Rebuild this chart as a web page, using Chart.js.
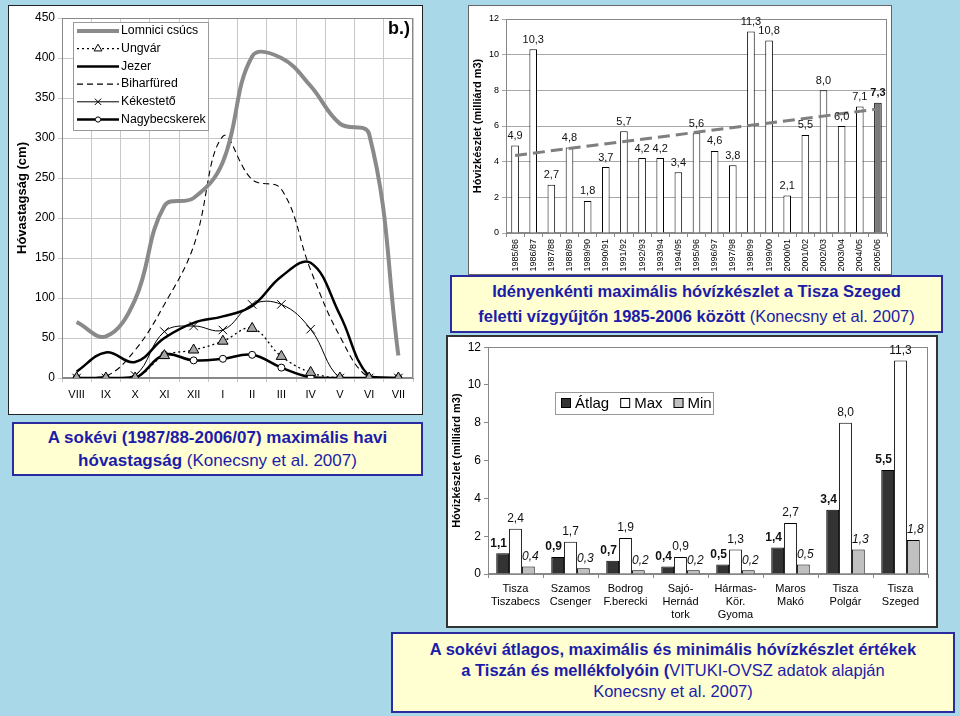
<!DOCTYPE html>
<html><head><meta charset="utf-8">
<script src="https://cdn.jsdelivr.net/npm/chart.js@4.4.1/dist/chart.umd.min.js"></script>
<style>
body{margin:0;width:960px;height:716px;background:#a9d8e8;position:relative;overflow:hidden;font-family:"Liberation Sans",Arial,sans-serif;}
.panel{position:absolute;background:#fff;box-sizing:border-box;}
.panel canvas{position:absolute;left:0;top:0;}
.cap{position:absolute;background:#ffffd2;border:2px solid #2b2ba0;box-sizing:border-box;color:#1c1ca8;text-align:center;}
</style></head>
<body>
<div class="panel" style="left:8px;top:5px;width:415px;height:410px;border:1px solid #222"><canvas id="c1" width="413" height="408"></canvas></div>
<div class="panel" style="left:468px;top:5px;width:424px;height:270px;border:1px solid #666"><canvas id="c2" width="422" height="268"></canvas></div>
<div class="panel" style="left:446px;top:335px;width:492px;height:293px;border:2px solid #333"><canvas id="c3" width="488" height="289"></canvas></div>
<div class="cap" style="left:450px;top:275px;width:493px;height:58px;font-size:16.5px;line-height:25px;padding-top:2px"><b>Idényenkénti maximális hóvízkészlet a Tisza Szeged<br>feletti vízgyűjtőn 1985-2006 között</b> (Konecsny et al. 2007)</div>
<div class="cap" style="left:12px;top:422px;width:411px;height:54px;font-size:17px;line-height:23px;padding-top:2px"><b>A sokévi (1987/88-2006/07) maximális havi<br>hóvastagság</b> (Konecsny et al. 2007)</div>
<div class="cap" style="left:391px;top:632px;width:564px;height:81px;font-size:16.5px;line-height:21px;padding-top:5px"><b>A sokévi átlagos, maximális és minimális hóvízkészlet értékek<br>a Tiszán és mellékfolyóin (</b>VITUKI-OVSZ adatok alapján<br>Konecsny et al. 2007)</div>
<script>
// ---------- data ----------
const months = ['VIII','IX','X','XI','XII','I','II','III','IV','V','VI','VII'];
const lomnici = [70, 52, 98, 215, 225, 270, 402, 400, 365, 318, 305, 28];
const ungvar = [0, 0, 0, 28, 35, 46, 62, 27, 7, 0, 0, 0];
const jezer = [8, 32, 20, 50, 69, 77, 90, 127, 144, 79, 2, 0];
const biharfured = [0, 2, 35, 92, 165, 302, 248, 236, 135, 52, 0, 0];
const kekesteto = [0, 0, 3, 58, 65, 60, 92, 92, 61, 0, 0, 0];
const nagybecskerek = [0, 0, 0, 29, 22, 24, 29, 13, 1, 0, 0, 0];

const seasons = ['1985/86','1986/87','1987/88','1988/89','1989/90','1990/91','1991/92','1992/93','1993/94','1994/95','1995/96','1996/97','1997/98','1998/99','1999/00','2000/01','2001/02','2002/03','2003/04','2004/05','2005/06'];
const seasonMax = [4.9, 10.3, 2.7, 4.8, 1.8, 3.7, 5.7, 4.2, 4.2, 3.4, 5.6, 4.6, 3.8, 11.3, 10.8, 2.1, 5.5, 8.0, 6.0, 7.1, 7.3];
const trendStart = 4.35, trendEnd = 6.95;

const stations = [['Tisza','Tiszabecs'],['Szamos','Csenger'],['Bodrog','F.berecki'],['Sajó-','Hernád','tork'],['Hármas-','Kör.','Gyoma'],['Maros','Makó'],['Tisza','Polgár'],['Tisza','Szeged']];
const avgVals = [1.1, 0.9, 0.7, 0.4, 0.5, 1.4, 3.4, 5.5];
const maxVals = [2.4, 1.7, 1.9, 0.9, 1.3, 2.7, 8.0, 11.3];
const minVals = [0.4, 0.3, 0.2, 0.2, 0.2, 0.5, 1.3, 1.8];

// ---------- setup ----------
const FONT = '"Liberation Sans", Arial, sans-serif';
Chart.defaults.font.family = FONT;
Chart.defaults.color = '#000';
Chart.defaults.animation = false;
Chart.defaults.plugins.legend.display = false;
Chart.defaults.plugins.tooltip.enabled = false;

const fmt = v => v.toFixed(1).replace('.', ',');

const plotBorder = {
  id: 'plotBorder',
  beforeDatasetsDraw(chart, args, o) {
    const a = chart.chartArea, ctx = chart.ctx;
    ctx.save(); ctx.strokeStyle = o.color || '#888'; ctx.lineWidth = 1;
    ctx.strokeRect(Math.round(a.left) + 0.5, Math.round(a.top) + 0.5, Math.round(a.width) - 1, Math.round(a.height) - 1);
    ctx.restore();
  }
};

const lineLegend = {
  id: 'lineLegend',
  afterDraw(chart, args, o) {
    if (!o.display) return;
    const ctx = chart.ctx; ctx.save();
    ctx.fillStyle = '#fff'; ctx.fillRect(o.x, o.y, o.w, o.h);
    ctx.strokeStyle = '#999'; ctx.lineWidth = 1; ctx.strokeRect(o.x + 0.5, o.y + 0.5, o.w, o.h);
    chart.data.datasets.forEach((ds, i) => {
      const y = o.y + o.first + i * o.step, x0 = o.x + 4, x1 = x0 + o.lineLen;
      ctx.beginPath(); ctx.setLineDash(ds.borderDash || []);
      ctx.strokeStyle = ds.borderColor; ctx.lineWidth = ds.borderWidth;
      ctx.moveTo(x0, y); ctx.lineTo(x1, y); ctx.stroke(); ctx.setLineDash([]);
      if (ds.pointRadius > 0) {
        ctx.fillStyle = ds.pointStyle === 'triangle' ? '#fff' : ds.pointBackgroundColor; ctx.strokeStyle = ds.pointBorderColor; ctx.lineWidth = ds.pointBorderWidth;
        Chart.helpers.drawPoint(ctx, {pointStyle: ds.pointStyle, radius: ds.pointRadius * 0.75, rotation: 0, borderWidth: ds.pointBorderWidth}, (x0 + x1) / 2, y);
      }
      ctx.fillStyle = '#000'; ctx.font = o.font; ctx.textBaseline = 'middle'; ctx.textAlign = 'left';
      ctx.fillText(ds.label, x1 + 2, y);
    });
    if (o.tag) { ctx.font = 'bold 18px ' + FONT; ctx.textAlign = 'right'; ctx.textBaseline = 'middle'; ctx.fillStyle = '#000'; ctx.fillText(o.tag, chart.chartArea.right - 3, chart.chartArea.top + 11); }
    ctx.restore();
  }
};

const valueLabels = {
  id: 'valueLabels',
  afterDatasetsDraw(chart, args, o) {
    if (!o.styles) return;
    const ctx = chart.ctx; ctx.save();
    chart.data.datasets.forEach((ds, i) => {
      const st = o.styles[i]; if (!st) return;
      const meta = chart.getDatasetMeta(i);
      meta.data.forEach((el, j) => {
        const v = ds.data[j]; if (v == null) return;
        ctx.font = (st.boldLast && j === ds.data.length - 1) ? 'bold ' + st.font : st.font;
        ctx.fillStyle = '#111'; ctx.textAlign = 'center'; ctx.textBaseline = 'bottom';
        ctx.fillText(fmt(v), el.x + (st.dx || 0), el.y - st.gap);
      });
    });
    ctx.restore();
  }
};

const boxLegend = {
  id: 'boxLegend',
  afterDraw(chart, args, o) {
    if (!o.display) return;
    const ctx = chart.ctx; ctx.save();
    ctx.fillStyle = '#fff'; ctx.fillRect(o.x, o.y, o.w, o.h);
    ctx.strokeStyle = '#999'; ctx.lineWidth = 1; ctx.strokeRect(o.x + 0.5, o.y + 0.5, o.w, o.h);
    ctx.font = o.font; ctx.textBaseline = 'middle';
    let x = o.x + 6; const cy = o.y + o.h / 2;
    chart.data.datasets.forEach(ds => {
      ctx.fillStyle = ds.backgroundColor; ctx.fillRect(x, cy - 5, 10, 10);
      ctx.strokeStyle = '#000'; ctx.strokeRect(x + 0.5, cy - 4.5, 9, 9);
      x += 14; ctx.fillStyle = '#000'; ctx.fillText(ds.label, x, cy + 1);
      x += ctx.measureText(ds.label).width + 11;
    });
    ctx.restore();
  }
};

// ---------- chart 1: snow depth ----------
new Chart(document.getElementById('c1'), {
  type: 'line',
  data: {
    labels: months,
    datasets: [
      {label: 'Lomnici csúcs', data: lomnici, borderColor: '#8a8a8a', borderWidth: 4, pointRadius: 0, tension: 0.4},
      {label: 'Ungvár', data: ungvar, borderColor: '#000', borderWidth: 1.3, borderDash: [2, 3], pointStyle: 'triangle', pointRadius: 6, pointBackgroundColor: '#a6a6a6', pointBorderColor: '#000', pointBorderWidth: 1, tension: 0.4},
      {label: 'Jezer', data: jezer, borderColor: '#000', borderWidth: 2.5, pointRadius: 0, tension: 0.4},
      {label: 'Biharfüred', data: biharfured, borderColor: '#000', borderWidth: 1.1, borderDash: [6, 4], pointRadius: 0, tension: 0.4},
      {label: 'Kékestető', data: kekesteto, borderColor: '#000', borderWidth: 1, pointStyle: 'crossRot', pointRadius: 6, pointBackgroundColor: '#000', pointBorderColor: '#000', pointBorderWidth: 1, tension: 0.4},
      {label: 'Nagybecskerek', data: nagybecskerek, borderColor: '#000', borderWidth: 2.5, pointStyle: 'circle', pointRadius: 3.5, pointBackgroundColor: '#fff', pointBorderColor: '#000', pointBorderWidth: 1, tension: 0.4}
    ]
  },
  options: {
    responsive: false,
    layout: {padding: {top: 12, right: 9, left: 0, bottom: 0}},
    scales: {
      x: {offset: true, grid: {offset: true, color: '#c8c8c8', tickLength: 4}, border: {color: '#888'},
          ticks: {font: {size: 11}, padding: 6, autoSkip: false, maxRotation: 0}, afterFit: s => { s.height = 36; }},
      y: {min: 0, max: 450, grid: {color: '#c8c8c8', tickLength: 4}, border: {color: '#888'},
          ticks: {stepSize: 50, font: {size: 12}, padding: 3},
          title: {display: true, text: 'Hóvastagság (cm)', font: {size: 13, weight: 'bold'}, padding: {top: 6, bottom: 0}},
          afterFit: s => { s.width = 53; }}
    },
    plugins: {
      plotBorder: {color: '#888'},
      lineLegend: {display: true, x: 64, y: 16, w: 135, h: 108, first: 9, step: 17.7, lineLen: 42, font: '12.3px ' + FONT, tag: 'b.)'}
    }
  },
  plugins: [plotBorder, lineLegend]
});

// ---------- chart 2: seasonal maximum ----------
const trendData = seasonMax.map(() => null);
trendData[0] = trendStart; trendData[trendData.length - 1] = trendEnd;
new Chart(document.getElementById('c2'), {
  data: {
    labels: seasons,
    datasets: [
      {type: 'line', label: 'trend', data: trendData, spanGaps: true, borderColor: '#7f7f7f', borderWidth: 3, borderDash: [12, 6], pointRadius: 0, order: 0},
      {type: 'bar', label: 'Max', data: seasonMax, backgroundColor: ctx => ctx.dataIndex === seasonMax.length - 1 ? '#7a7a7a' : '#fff',
       borderColor: '#000', borderWidth: 1, barPercentage: 0.42, categoryPercentage: 1, order: 1}
    ]
  },
  options: {
    responsive: false,
    layout: {padding: {top: 13, right: 4, left: 0, bottom: 0}},
    scales: {
      x: {offset: true, grid: {offset: true, drawOnChartArea: false, color: '#888', tickLength: 4}, border: {color: '#888'},
          ticks: {font: {size: 9}, padding: 2, autoSkip: false, minRotation: 90, maxRotation: 90}, afterFit: s => { s.height = 41; }},
      y: {min: 0, max: 12, grid: {color: '#a8a8a8', tickLength: 4}, border: {color: '#888'},
          ticks: {stepSize: 2, font: {size: 9}, padding: 3},
          title: {display: true, text: 'Hóvizkészlet (milliárd m3)', font: {size: 11, weight: 'bold'}, padding: {top: 2, bottom: 0}},
          afterFit: s => { s.width = 37; }}
    },
    plugins: {
      plotBorder: {color: '#888'},
      valueLabels: {styles: [null, {font: '11px ' + FONT, gap: 4, boldLast: true}]}
    }
  },
  plugins: [plotBorder, valueLabels]
});

// ---------- chart 3: stations ----------
new Chart(document.getElementById('c3'), {
  type: 'bar',
  data: {
    labels: stations,
    datasets: [
      {label: 'Átlag', data: avgVals, backgroundColor: '#333333', borderColor: '#000', borderWidth: 1},
      {label: 'Max', data: maxVals, backgroundColor: '#ffffff', borderColor: '#000', borderWidth: 1},
      {label: 'Min', data: minVals, backgroundColor: '#c0c0c0', borderColor: '#000', borderWidth: 1}
    ]
  },
  options: {
    responsive: false,
    datasets: {bar: {categoryPercentage: 0.7, barPercentage: 1}},
    layout: {padding: {top: 8, right: 8, left: 0, bottom: 0}},
    scales: {
      x: {offset: true, grid: {offset: true, drawOnChartArea: false, color: '#888', tickLength: 4}, border: {color: '#888'},
          ticks: {font: {size: 11}, padding: 4, autoSkip: false, maxRotation: 0}, afterFit: s => { s.height = 52; }},
      y: {min: 0, max: 12, grid: {drawOnChartArea: false, color: '#888', tickLength: 4}, border: {color: '#888'},
          ticks: {stepSize: 2, font: {size: 12}, padding: 3},
          title: {display: true, text: 'Hóvizkészlet (milliárd m3)', font: {size: 11, weight: 'bold'}, padding: {top: 2, bottom: 0}},
          afterFit: s => { s.width = 40; }}
    },
    plugins: {
      plotBorder: {color: '#888'},
      valueLabels: {styles: [
        {font: 'bold 12px ' + FONT, gap: 4, dx: -4},
        {font: '12px ' + FONT, gap: 4},
        {font: 'italic 12px ' + FONT, gap: 4, dx: 2}
      ]},
      boxLegend: {display: true, x: 107, y: 55, w: 158, h: 22, font: '15px ' + FONT}
    }
  },
  plugins: [plotBorder, valueLabels, boxLegend]
});
</script>
</body></html>
